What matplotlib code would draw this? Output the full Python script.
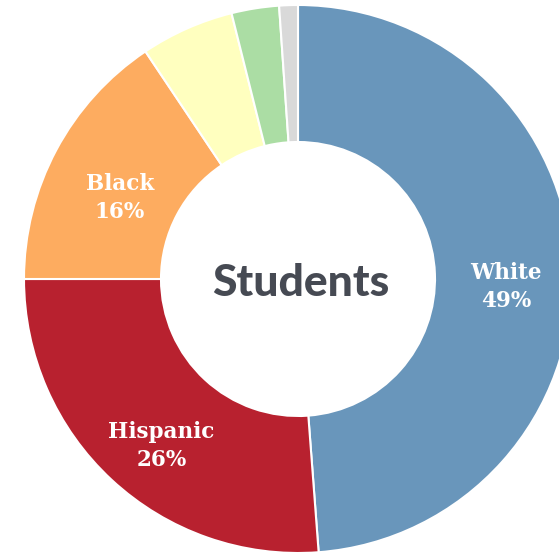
import numpy as np
import matplotlib
matplotlib.use("Agg")
import matplotlib.pyplot as plt

groups = ["White", "Hispanic", "Black", "Asian", "Two or more", "Other"]
shares = [48.8, 26.2, 15.6, 5.5, 2.8, 1.1]
labels = ["White\n49%", "Hispanic\n26%", "Black\n16%", "", "", ""]
colors = ["#6996bb", "#b8212f", "#fdac60", "#ffffbf", "#abdda4", "#d9d9d9"]

fig = plt.figure(figsize=(5.59, 5.54), dpi=100)
ax = fig.add_axes([0, 0, 1, 1])

cx, cy, r = 298, 275, 274
ax.pie(shares, colors=colors, startangle=90, counterclock=False,
       center=(cx, cy), radius=r, frame=True,
       wedgeprops=dict(width=r * 0.5, edgecolor="white", linewidth=1.5))
ax.set_xlim(0, 559)
ax.set_ylim(0, 554)
ax.set_aspect("equal")
ax.axis("off")

# labels in the middle of the ring, nudged down a little like the original
total = sum(shares)
cum = np.cumsum([0] + shares[:-1])
for s, c, lab in zip(shares, cum, labels):
    if not lab:
        continue
    ang = np.deg2rad(90 - 360 * (c + s / 2) / total)
    x = cx + 0.75 * r * np.cos(ang) + 3
    y = cy + 0.75 * r * np.sin(ang) - 16
    ax.text(x, y, lab, ha="center", va="center", color="white",
            fontsize=15.5, fontweight="bold", family="DejaVu Serif", linespacing=1.35)

ax.text(cx + 3, cy - 4, "Students", ha="center", va="center", color="#464a53",
        fontsize=32, fontweight="black", family="Lato")

fig.savefig("out.png", dpi=100)
